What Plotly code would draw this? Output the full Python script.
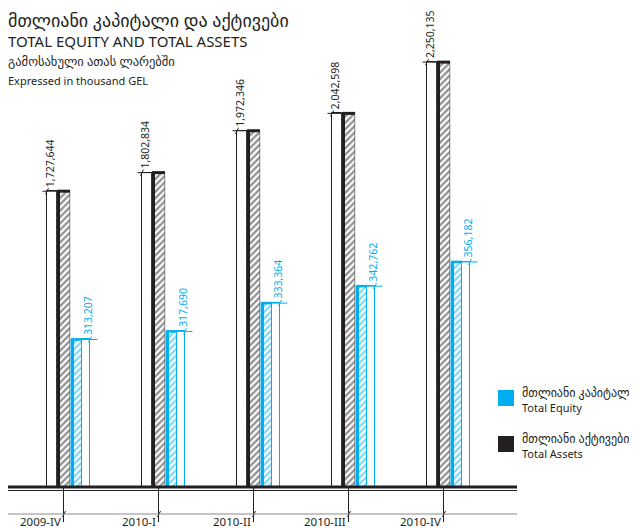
import plotly.graph_objects as go

# ---------------- data ----------------
quarters = ["2009-IV", "2010-I", "2010-II", "2010-III", "2010-IV"]
total_assets = [1727644, 1802834, 1972346, 2042598, 2250135]
total_equity = [313207, 317690, 333364, 342762, 356182]
asset_labels = ["1,727,644", "1,802,834", "1,972,346", "2,042,598", "2,250,135"]
equity_labels = ["313,207", "317,690", "333,364", "342,762", "356,182"]

title_ka = "მთლიანი კაპიტალი და აქტივები"
title_en = "TOTAL EQUITY AND TOTAL ASSETS"
sub_ka = "გამოსახული ათას ლარებში"
sub_en = "Expressed in thousand GEL"
legend_equity = ["მთლიანი კაპიტალი", "Total Equity"]
legend_assets = ["მთლიანი აქტივები", "Total Assets"]

# ---------------- style / layout ----------------
OFF = 8                            # page body margin
W, H = 637 - OFF, 528 - OFF
L, R, T, B = 0, 120, 32, 41
PW, PH = W - L - R, H - T - B
BLUE = "#00aeef"
BLACK = "#231f20"
FONT = "Noto Sans, DejaVu Sans, sans-serif"

CAT_PX = 95.0                      # pixels per category
x_range = [-55.5 / CAT_PX, -55.5 / CAT_PX + PW / CAT_PX]
ya_range = [530000, 2339700]      # assets axis (truncated, as in original)
ye_range = [231500, 479100]       # equity axis (truncated, as in original)

def dx(px):
    return px / CAT_PX

def dya(px):
    return px * (ya_range[1] - ya_range[0]) / PH

def dye(px):
    return px * (ye_range[1] - ye_range[0]) / PH

def pxp(px):
    return (px - (OFF + L)) / PW

def pyp(py):
    return (OFF + T + PH - py) / PH

xs = list(range(len(quarters)))

fig = go.Figure()

# white shadow bar behind assets
fig.add_trace(go.Bar(
    x=xs, y=total_assets, offset=dx(-16.5), width=dx(10),
    marker=dict(color="white", line=dict(color=BLACK, width=1)),
    yaxis="y", hoverinfo="skip", showlegend=False))
# assets hatched bar
fig.add_trace(go.Bar(
    x=xs, y=total_assets, offset=dx(-6.5), width=dx(13),
    marker=dict(color="white", line=dict(color=BLACK, width=0.5),
                pattern=dict(shape="/", fgcolor=BLACK, bgcolor="white",
                             size=4.5, solidity=0.5)),
    yaxis="y", name="Total Assets", showlegend=False))
# thick left edge of assets bar
fig.add_trace(go.Bar(
    x=xs, y=total_assets, offset=dx(-6.5), width=dx(2.5),
    marker=dict(color=BLACK, line=dict(width=0)),
    yaxis="y", hoverinfo="skip", showlegend=False))
# equity hatched bar
fig.add_trace(go.Bar(
    x=xs, y=total_equity, offset=dx(7.5), width=dx(11),
    marker=dict(color="white", line=dict(color=BLUE, width=0.5),
                pattern=dict(shape="/", fgcolor=BLUE, bgcolor="white",
                             size=4.5, solidity=0.5)),
    yaxis="y2", name="Total Equity", showlegend=False))
# thick left edge of equity bar
fig.add_trace(go.Bar(
    x=xs, y=total_equity, offset=dx(7.5), width=dx(2.5),
    marker=dict(color=BLUE, line=dict(width=0)),
    yaxis="y2", hoverinfo="skip", showlegend=False))
# white bar next to equity
fig.add_trace(go.Bar(
    x=xs, y=total_equity, offset=dx(18.5), width=dx(8),
    marker=dict(color="white", line=dict(color=BLUE, width=1)),
    yaxis="y2", hoverinfo="skip", showlegend=False))

shapes = []
annotations = []

for i, (a, e) in enumerate(zip(total_assets, total_equity)):
    # assets top edge + leader line
    shapes.append(dict(type="line", xref="x", yref="y", x0=i + dx(-6.5), x1=i + dx(6.5),
                       y0=a, y1=a, line=dict(color=BLACK, width=3)))
    shapes.append(dict(type="line", xref="x", yref="y", x0=i + dx(-21), x1=i + dx(-6.5),
                       y0=a, y1=a, line=dict(color=BLACK, width=1)))
    shapes.append(dict(type="line", xref="x", yref="y", x0=i + dx(-18), x1=i + dx(-15),
                       y0=a - dya(3), y1=a + dya(3), line=dict(color=BLACK, width=1)))
    annotations.append(dict(x=i + dx(-13.5), y=a, xref="x", yref="y", text=asset_labels[i],
                            textangle=-90, showarrow=False, xanchor="center", yanchor="bottom",
                            yshift=2, font=dict(family=FONT, size=10.5, color=BLACK)))
    # equity top edge + leader line
    shapes.append(dict(type="line", xref="x", yref="y2", x0=i + dx(7.5), x1=i + dx(18.5),
                       y0=e, y1=e, line=dict(color=BLUE, width=2.5)))
    shapes.append(dict(type="line", xref="x", yref="y2", x0=i + dx(18.5), x1=i + dx(34),
                       y0=e, y1=e, line=dict(color=BLUE, width=1)))
    shapes.append(dict(type="line", xref="x", yref="y2", x0=i + dx(25), x1=i + dx(28),
                       y0=e - dye(3), y1=e + dye(3), line=dict(color=BLUE, width=1)))
    annotations.append(dict(x=i + dx(24.5), y=e, xref="x", yref="y2", text=equity_labels[i],
                            textangle=-90, showarrow=False, xanchor="center", yanchor="bottom",
                            yshift=2, font=dict(family=FONT, size=10.5, color=BLUE)))
    # category tick line and label
    shapes.append(dict(type="line", xref="x", yref="paper", x0=i, x1=i,
                       y0=pyp(487), y1=pyp(522), line=dict(color=BLACK, width=1)))
    shapes.append(dict(type="line", xref="x", yref="paper", x0=i + dx(-1), x1=i + dx(2),
                       y0=pyp(517), y1=pyp(511), line=dict(color=BLACK, width=1)))
    annotations.append(dict(x=i, y=pyp(521), xref="x", yref="paper", text=quarters[i],
                            showarrow=False, xanchor="right", yanchor="middle", xshift=-1,
                            font=dict(family=FONT, size=11.5, color=BLACK)))

# baseline double rule and grey axis
shapes.append(dict(type="line", xref="paper", yref="paper", x0=0, x1=1, y0=pyp(487), y1=pyp(487),
                   line=dict(color=BLACK, width=3)))
shapes.append(dict(type="line", xref="paper", yref="paper", x0=0, x1=1, y0=pyp(490.5), y1=pyp(490.5),
                   line=dict(color=BLACK, width=1)))
shapes.append(dict(type="line", xref="paper", yref="paper", x0=0, x1=1, y0=pyp(514), y1=pyp(514),
                   line=dict(color="#8a8a8a", width=1)))

# custom legend
for (sq_top, col, lines) in [(390, BLUE, legend_equity), (436, BLACK, legend_assets)]:
    shapes.append(dict(type="rect", xref="paper", yref="paper",
                       x0=pxp(498), x1=pxp(514), y0=pyp(sq_top + 16), y1=pyp(sq_top),
                       fillcolor=col, line=dict(width=0)))
    annotations.append(dict(x=pxp(520), y=pyp(sq_top + 2), xref="paper", yref="paper",
                            text=lines[0], showarrow=False, xanchor="left",
                            yanchor="middle", align="left",
                            font=dict(family=FONT, size=12, color=BLACK)))
    annotations.append(dict(x=pxp(520), y=pyp(sq_top + 17), xref="paper", yref="paper",
                            text=lines[1], showarrow=False, xanchor="left",
                            yanchor="middle", align="left",
                            font=dict(family=FONT, size=11, color=BLACK)))

# titles
for txt, cy, size in [(title_ka, 20, 18), (title_en, 41, 15),
                      (sub_ka, 62, 12.5), (sub_en, 80, 11)]:
    annotations.append(dict(x=pxp(6), y=pyp(cy), xref="paper", yref="paper", text=txt,
                            showarrow=False, xanchor="left", yanchor="middle",
                            font=dict(family=FONT, size=size, color=BLACK)))

fig.update_layout(
    width=W, height=H, margin=dict(l=L, r=R, t=T, b=B),
    paper_bgcolor="white", plot_bgcolor="white",
    barmode="overlay", bargap=0,
    xaxis=dict(range=x_range, visible=False, fixedrange=True),
    yaxis=dict(range=ya_range, visible=False),
    yaxis2=dict(range=ye_range, visible=False, overlaying="y"),
    shapes=shapes, annotations=annotations, showlegend=False,
)

fig.write_html("out.html")
